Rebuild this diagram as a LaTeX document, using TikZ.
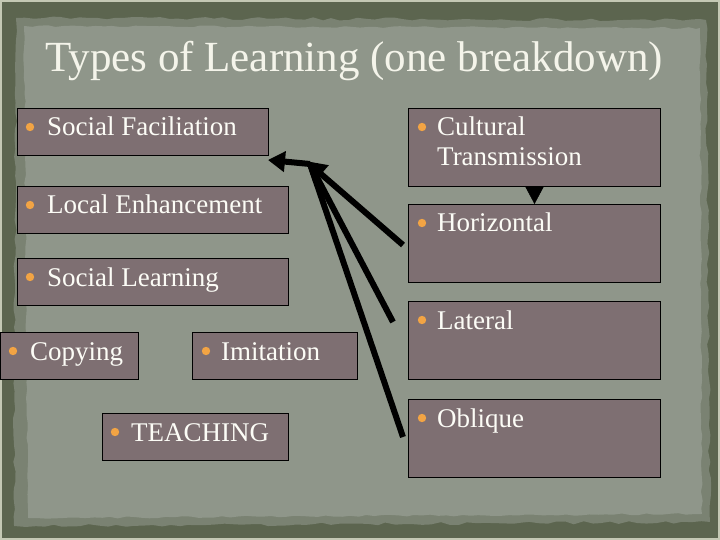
\documentclass[tikz,border=0pt]{standalone}
\usepackage{fontspec}
\setmainfont{Liberation Serif}
\usetikzlibrary{arrows.meta,decorations.pathmorphing}
\definecolor{outerc}{HTML}{5C654F}
\definecolor{edgec}{HTML}{C4C8B4}
\definecolor{midc}{HTML}{7A8272}
\definecolor{paperc}{HTML}{8F968A}
\definecolor{boxc}{HTML}{7E6F72}
\definecolor{bulc}{HTML}{F2A444}
\definecolor{titlec}{HTML}{F4F4EA}
\definecolor{textc}{HTML}{FCFCF6}
\tikzset{
  box/.style={draw=black, line width=1pt, fill=boxc, anchor=north west, inner sep=0pt},
  lbl/.style={anchor=base west, inner sep=0pt, text=textc, font=\fontsize{27}{30}\selectfont},
  bul/.style={fill=bulc},
  conn/.style={draw=black, line width=6pt},
}
\begin{document}
\begin{tikzpicture}[x=1pt,y=-1pt]
\useasboundingbox (0,0) rectangle (720,540);
% background
\fill[edgec] (0,0) rectangle (720,540);
\fill[outerc] (2,2) rectangle (718,538);
\pgfmathsetseed{7}
\fill[midc, decorate, decoration={random steps, segment length=9pt, amplitude=1.5pt}]
  (16,18) -- (706,20) -- (710,522) -- (14,526) -- cycle;
\fill[paperc, decorate, decoration={random steps, segment length=8pt, amplitude=1pt}]
  (24,26) -- (700,28) -- (702,514) -- (28,518) -- cycle;
% title
\node[anchor=base west, inner sep=0pt, text=titlec, font=\fontsize{43}{48}\selectfont] (title) at (45,72) {Types of Learning (one breakdown)};
% left boxes
\node[box, minimum width=251pt, minimum height=47pt] (sf) at (17,108) {};
\fill[bul] (30,127) circle (4.2pt);
\node[lbl] (sft) at (47,136) {Social Faciliation};
\node[box, minimum width=271pt, minimum height=47pt] (le) at (17,186) {};
\fill[bul] (30,205) circle (4.2pt);
\node[lbl] (let) at (47,214) {Local Enhancement};
\node[box, minimum width=271pt, minimum height=47pt] (sl) at (17,258) {};
\fill[bul] (30,277) circle (4.2pt);
\node[lbl] (slt) at (47,286) {Social Learning};
\node[box, minimum width=138pt, minimum height=47pt] (cp) at (0,332) {};
\fill[bul] (13,351) circle (4.2pt);
\node[lbl] (cpt) at (30,360) {Copying};
\node[box, minimum width=165pt, minimum height=47pt] (im) at (192,332) {};
\fill[bul] (206,351) circle (4.2pt);
\node[lbl] (imt) at (221,360) {Imitation};
\node[box, minimum width=186pt, minimum height=47pt] (te) at (102,413) {};
\fill[bul] (115,432) circle (4.2pt);
\node[lbl] (tet) at (131,441) {TEACHING};
% right boxes
\node[box, minimum width=252pt, minimum height=78pt] (ct) at (408,108) {};
\fill[bul] (422,127) circle (4.2pt);
\node[lbl] (ctt) at (437,136) {Cultural};
\node[lbl] (ctt2) at (437,166) {Transmission};
\node[box, minimum width=252pt, minimum height=78pt] (hz) at (408,204) {};
\fill[bul] (422,223) circle (4.2pt);
\node[lbl] (hzt) at (437,232) {Horizontal};
\node[box, minimum width=252pt, minimum height=78pt] (la) at (408,301) {};
\fill[bul] (422,320) circle (4.2pt);
\node[lbl] (lat) at (437,329) {Lateral};
\node[box, minimum width=252pt, minimum height=78pt] (ob) at (408,399) {};
\fill[bul] (422,418) circle (4.2pt);
\node[lbl] (obt) at (437,427) {Oblique};
% connectors
\draw[line width=0.5pt, -{Triangle[length=17pt,width=18pt]}] (ct.south) -- (hz.north);
\coordinate (hub) at (310,164);
\coordinate (hubtip) at (306,161);
\coordinate (sfend) at (268,160);
\coordinate (hzs) at (403,245);
\coordinate (las) at (393,322);
\coordinate (obs) at (403,437);
\draw[conn, -{Triangle[length=17pt,width=20pt]}] (hub) -- (sfend);
\draw[conn] (las) -- (hub);
\draw[conn] (obs) -- (hub);
\draw[conn, -{Triangle[length=20pt,width=22pt]}] (hzs) -- (hubtip);
\end{tikzpicture}
\end{document}
